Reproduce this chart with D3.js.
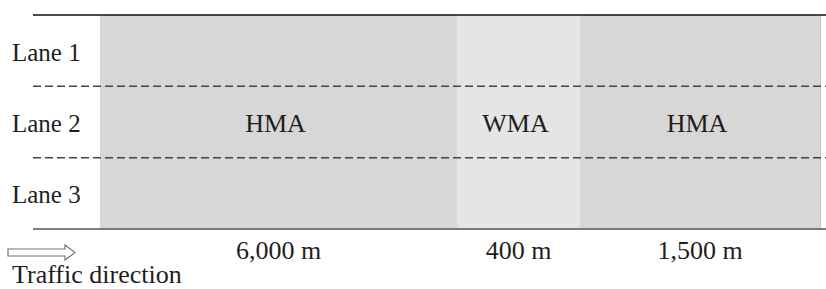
<!DOCTYPE html>
<html>
<head>
<meta charset="utf-8">
<script src="https://cdn.jsdelivr.net/npm/d3@7"></script>
<style>
  body { margin: 0; background: #fff; }
  svg text { font-family: "Liberation Serif", "Times New Roman", serif; fill: #1e1e1e; }
</style>
</head>
<body>
<script>
// lanes and pavement sections (length in m)
const lanes = ['Lane 1', 'Lane 2', 'Lane 3']
const sections = ['HMA', 'WMA', 'HMA']
const lengths = [6000, 400, 1500]
const lengthLabels = ['6,000 m', '400 m', '1,500 m']

const W = 826, H = 289

const svg = d3.select('body').append('svg')
  .attr('width', W)
  .attr('height', H)

// cumulative start / end of each section
let acc = 0
const data = sections.map((s, i) => {
  const d = {name: s, start: acc, end: acc + lengths[i], label: lengthLabels[i]}
  acc += lengths[i]
  return d
})

// schematic (not to scale) distance axis -> piecewise linear scale
const xScale = d3.scaleLinear()
  .domain([0, 6000, 6400, 7900])
  .range([100, 457, 580, 820])

const yScale = d3.scaleBand()
  .domain(lanes)
  .range([15, 229])

const fills = {HMA: '#d7d7d7', WMA: '#e5e5e5'}

// section blocks
svg.selectAll('rect.sec')
  .data(data)
  .join('rect')
  .attr('class', 'sec')
  .attr('x', d => xScale(d.start))
  .attr('y', yScale.range()[0])
  .attr('width', d => xScale(d.end) - xScale(d.start))
  .attr('height', yScale.range()[1] - yScale.range()[0])
  .attr('fill', d => fills[d.name])

// thin edge at the end of the road drawing
svg.append('line')
  .attr('x1', xScale(acc) + 0.5).attr('x2', xScale(acc) + 0.5)
  .attr('y1', yScale.range()[0]).attr('y2', yScale.range()[1])
  .attr('stroke', '#c6c6c6')

// lane dividers
svg.selectAll('line.div')
  .data(lanes.slice(1))
  .join('line')
  .attr('class', 'div')
  .attr('x1', 33).attr('x2', W)
  .attr('y1', d => yScale(d)).attr('y2', d => yScale(d))
  .attr('stroke', '#444')
  .attr('stroke-width', 1.5)
  .attr('stroke-dasharray', '8,4')

// road edges
svg.append('line')
  .attr('x1', 33).attr('x2', W)
  .attr('y1', yScale.range()[0]).attr('y2', yScale.range()[0])
  .attr('stroke', '#111').attr('stroke-width', 1.6)
svg.append('line')
  .attr('x1', 33).attr('x2', W)
  .attr('y1', yScale.range()[1]).attr('y2', yScale.range()[1])
  .attr('stroke', '#555').attr('stroke-width', 1.6)

// lane labels
svg.selectAll('text.lane')
  .data(lanes)
  .join('text')
  .attr('class', 'lane')
  .attr('x', 12)
  .attr('y', d => yScale(d) + yScale.bandwidth() / 2 + 10)
  .attr('font-size', 25)
  .text(d => d)

// section names in the middle lane
svg.selectAll('text.sec')
  .data(data)
  .join('text')
  .attr('class', 'sec')
  .attr('x', d => (xScale(d.start) + xScale(d.end)) / 2 - 3)
  .attr('y', yScale('Lane 2') + yScale.bandwidth() / 2 + 10)
  .attr('text-anchor', 'middle')
  .attr('font-size', 26)
  .text(d => d.name)

// section lengths below
svg.selectAll('text.len')
  .data(data)
  .join('text')
  .attr('class', 'len')
  .attr('x', d => (xScale(d.start) + xScale(d.end)) / 2)
  .attr('y', 259)
  .attr('text-anchor', 'middle')
  .attr('font-size', 26)
  .text(d => d.label)

// traffic direction arrow (outline)
svg.append('path')
  .attr('d', 'M8,249 L65,249 L65,245 L75,252.5 L65,260 L65,256 L8,256 Z')
  .attr('fill', '#fff')
  .attr('stroke', '#777')
  .attr('stroke-width', 1.2)

svg.append('text')
  .attr('x', 12)
  .attr('y', 283)
  .attr('font-size', 26)
  .text('Traffic direction')
</script>
</body>
</html>
